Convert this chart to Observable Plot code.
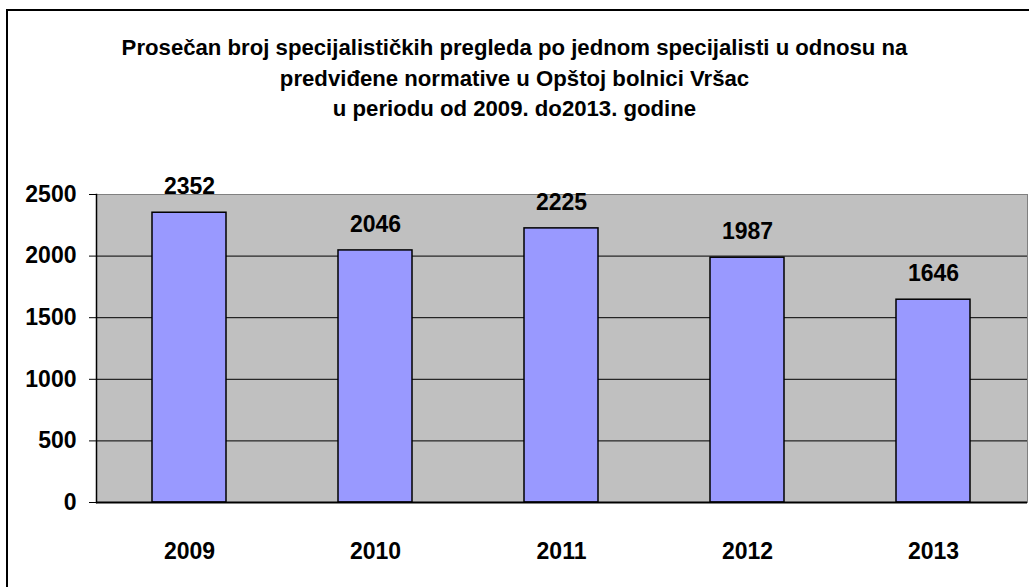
<!DOCTYPE html>
<html><head><meta charset="utf-8">
<script src="https://cdn.jsdelivr.net/npm/d3@7"></script>
<script src="https://cdn.jsdelivr.net/npm/@observablehq/plot@0.6"></script>
<style>
html,body{margin:0;padding:0;overflow:hidden;background:#fff;width:1029px;height:587px;}
#border{position:absolute;left:6px;top:9px;width:1060px;height:620px;border:2px solid #000;box-sizing:border-box;}
#title{position:absolute;left:0;top:33px;width:1029px;text-align:center;font-family:"Liberation Sans",Arial,sans-serif;font-weight:bold;font-size:22.5px;line-height:30.5px;transform:scaleX(0.985);transform-origin:514.5px 0;color:#000;}
#chart{position:absolute;left:0;top:0;}
</style></head><body>
<div id="border"></div>
<div id="title">Prosečan broj specijalističkih pregleda po jednom specijalisti u odnosu na<br>predviđene normative u Opštoj bolnici Vršac<br>u periodu od 2009. do2013. godine</div>
<div id="chart"></div>
<script>
const years = ["2009", "2010", "2011", "2012", "2013"];
const values = [2352, 2046, 2225, 1987, 1646];
const yTicks = [0, 500, 1000, 1500, 2000, 2500];
const gridValues = [500, 1000, 1500, 2000];

const data = years.map((y, i) => ({year: y, value: values[i]}));

const plot = Plot.plot({
  width: 1029,
  height: 587,
  marginTop: 194,
  marginBottom: 85,
  marginLeft: 96,
  marginRight: 2,
  style: {fontFamily: "Liberation Sans, Arial, sans-serif", fontSize: "23px", fontWeight: "bold", background: "transparent", color: "#000", overflow: "visible"},
  x: {domain: years, paddingInner: 0.6, paddingOuter: 0.3},
  y: {domain: [0, 2500]},
  marks: [
    Plot.frame({fill: "#C0C0C0", stroke: "#808080"}),
    Plot.ruleY(gridValues, {stroke: "#000", strokeWidth: 1}),
    Plot.barY(data, {x: "year", y: "value", fill: "#9999FF", stroke: "#000", strokeWidth: 1.5}),
    Plot.frame({anchor: "left", stroke: "#000", strokeWidth: 1.5}),
    Plot.ruleY([0], {stroke: "#000", strokeWidth: 2}),
    Plot.axisY({ticks: yTicks, tickSize: 7, tickPadding: 13, tickFormat: d => String(d), fontSize: 23, fontWeight: "bold", label: null}),
    Plot.axisX({tickSize: 0, tickPadding: 40, fontSize: 23, fontWeight: "bold", label: null}),
    Plot.text(data, {x: "year", y: "value", text: d => String(d.value), dy: -26, fontSize: 23, fontWeight: "bold"})
  ]
});
document.getElementById("chart").append(plot);
</script>
</body></html>
